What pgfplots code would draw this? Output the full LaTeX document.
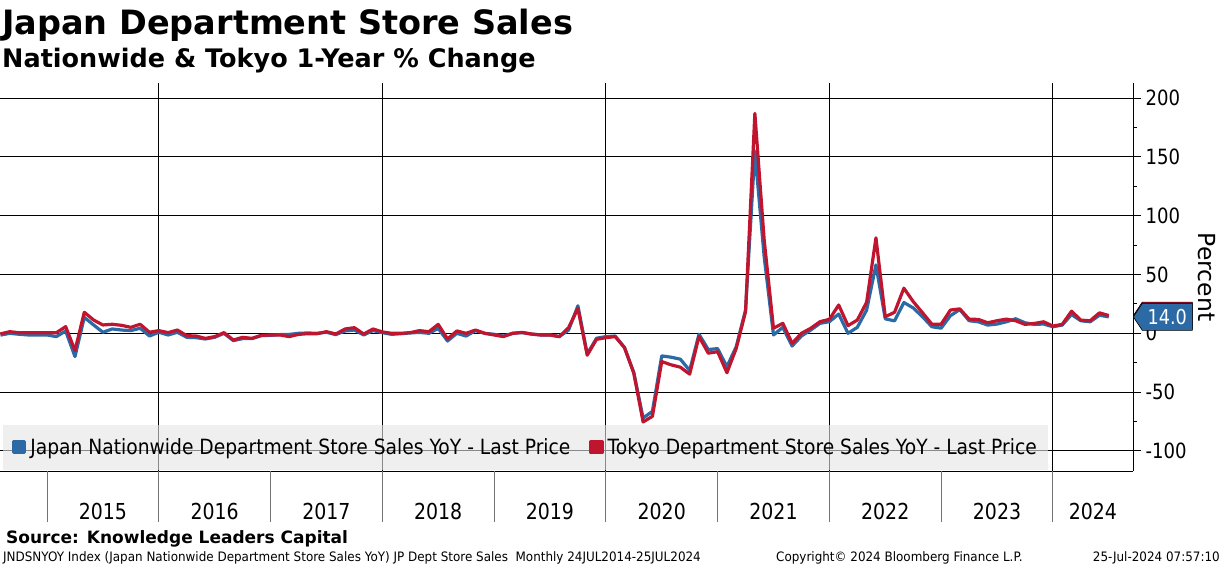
\documentclass[border=0pt]{standalone}
\usepackage{pgfplots}
\pgfplotsset{compat=1.18}
\usepackage{pgfplotstable}
\usepackage{fontspec}
\setmainfont{DejaVu Sans}
\newfontfamily\rg[FakeStretch=0.86]{DejaVu Sans}
\newfontfamily\rgl[FakeStretch=0.89]{DejaVu Sans}
\newfontfamily\rgs[FakeStretch=0.92]{DejaVu Sans}
\newfontfamily\bd{DejaVu Sans}
\usetikzlibrary{shapes.symbols}
\definecolor{blueC}{RGB}{44,106,166}
\definecolor{redC}{RGB}{192,21,47}

\pgfplotstableread{
m N T
-5 -1.5 -0.5
-4 0.0 1.4
-3 -0.8 0.5
-2 -1.4 0.5
-1 -1.4 0.5
0 -1.4 0.5
1 -2.8 0.5
2 2.0 5.7
3 -19.8 -14.7
4 13.6 17.9
5 7.1 11.3
6 0.9 7.1
7 3.7 7.7
8 2.8 6.8
9 2.3 5.1
10 4.3 7.7
11 -2.3 0.9
12 0.9 2.3
13 -1.4 0.6
14 0.9 2.8
15 -3.4 -2.0
16 -3.7 -2.3
17 -4.8 -4.3
18 -3.4 -2.8
19 0.0 0.6
20 -6.2 -5.7
21 -4.5 -3.4
22 -4.5 -4.3
23 -2.0 -1.7
24 -1.7 -1.4
25 -1.1 -1.4
26 -0.9 -2.8
27 0.0 -0.9
28 0.3 -0.3
29 0.0 -0.3
30 0.9 1.4
31 -1.1 -0.6
32 2.0 3.7
33 2.8 4.8
34 -1.4 -0.6
35 2.3 3.7
36 0.6 1.2
37 -0.9 0.0
38 -0.3 0.0
39 0.3 0.6
40 0.8 2.3
41 0.0 1.4
42 4.2 7.6
43 -6.5 -4.8
44 0.0 2.0
45 -2.3 0.0
46 2.3 2.8
47 0.0 0.0
48 -0.8 -1.4
49 -2.3 -2.8
50 0.0 0.0
51 0.6 0.8
52 -0.6 -0.6
53 -1.4 -1.4
54 -1.4 -1.4
55 -2.8 -2.8
56 2.8 4.8
57 23.4 21.2
58 -17.5 -18.6
59 -4.2 -5.1
60 -2.8 -3.7
61 -2.3 -2.8
62 -12.1 -12.1
63 -33.3 -33.9
64 -72.0 -75.4
65 -66.4 -70.6
66 -19.2 -24.0
67 -20.3 -26.8
68 -22.0 -28.8
69 -31.6 -34.7
70 -0.8 -2.8
71 -13.8 -16.9
72 -13.0 -15.6
73 -28.4 -33.5
74 -11.3 -12.8
75 19.8 18.4
76 155.0 187.0
77 65.0 79.4
78 -1.4 4.3
79 5.1 8.5
80 -10.8 -8.5
81 -2.3 0.0
82 2.8 4.3
83 8.5 9.9
84 9.9 11.9
85 16.4 24.1
86 0.0 6.5
87 5.1 11.3
88 19.8 26.4
89 58.2 81.2
90 12.3 14.1
91 10.6 17.9
92 26.2 38.4
93 21.6 27.0
94 14.1 17.5
95 5.6 7.8
96 4.4 7.8
97 15.0 19.8
98 20.2 20.8
99 10.7 12.1
100 9.8 11.8
101 7.0 9.0
102 7.9 10.7
103 9.8 12.1
104 12.4 10.7
105 9.0 7.6
106 7.6 8.4
107 7.9 9.8
108 5.6 6.2
109 7.0 7.6
110 16.0 18.8
111 10.7 11.2
112 9.8 10.7
113 15.4 17.4
114 14.0 15.1
}\data

\begin{document}
\begin{tikzpicture}
\path[use as bounding box] (0pt,0pt) rectangle (1224pt,566pt);
\begin{axis}[
  at={(0pt,95pt)}, anchor=south west,
  width=1133pt, height=388pt, scale only axis,
  xmin=-5.05, xmax=116.6, ymin=-117.1, ymax=212.9,
  clip=false,
  axis x line*=bottom, axis y line*=right,
  axis line style={black, line width=1pt},
  tick align=outside,
  major tick length=8pt, minor tick length=4pt,
  tick style={black, line width=1pt},
  ytick={-100,-50,0,50,100,150,200},
  yticklabels={-100,-50,0,50,100,150,200},
  minor ytick={-75,-25,25,75,125,175},
  yticklabel style={anchor=west, font=\rg\fontsize{21}{25}\selectfont, xshift=1pt},
  xtick={6,18,30,42,54,66,78,90,102,112.3},
  xticklabels={2015,2016,2017,2018,2019,2020,2021,2022,2023,2024},
  xtick style={draw=none},
  xticklabel style={font=\rg\fontsize{22}{26}\selectfont, yshift=-20.5pt},
  minor xtick={12,36,60,84,108},
  xminorgrids=true, ymajorgrids=true, xmajorgrids=false,
  major grid style={black, line width=1pt},
  minor grid style={black, line width=1pt},
  extra x ticks={0,12,24,36,48,60,72,84,96,108},
  extra x tick labels={},
  extra x tick style={grid=none, major tick length=51pt, xtick style={draw=black!55, line width=1pt}},
  every axis y label/.style={at={(axis description cs:1.0654,0.5)}, rotate=-90, anchor=center, font=\bd\fontsize{23.5}{28}\selectfont\mdseries},
  ylabel={Percent},
  legend style={at={(axis description cs:0.0026,0.002)}, anchor=south west,
    legend columns=2, draw=none, fill=black!10, fill opacity=0.6, text opacity=1,
    font=\rgl\fontsize{21}{25}\selectfont, inner xsep=9pt, inner ysep=12pt,
    /tikz/every even column/.append style={column sep=17pt}},
  legend cell align=left,
  legend image code/.code={\fill[#1, fill opacity=1] (0pt,-5.5pt) rectangle (11pt,5.5pt);},
]
\addplot[blueC, line width=3.2pt, line join=round] table[x=m, y=N] {\data};
\addlegendentry{\hspace{2pt}Japan Nationwide Department Store Sales YoY - Last Price}
\addplot[redC, line width=3.2pt, line join=round] table[x=m, y=T] {\data};
\addlegendentry{\hspace{2pt}Tokyo Department Store Sales YoY - Last Price\hspace{8pt}}
\node[signal, signal to=west, fill=redC, draw=black, line width=0.6pt, minimum height=27pt, minimum width=59pt, inner sep=1pt, signal pointer angle=113, anchor=west] at (axis cs:116.6,15.1) {};
\node[signal, signal to=west, fill=blueC, draw=black, line width=0.6pt, minimum height=27pt, minimum width=59pt, inner sep=1pt, signal pointer angle=113, anchor=west, text=white, font=\rg\fontsize{20.5}{24}\selectfont] at (axis cs:116.6,14.0) {14.0};
\end{axis}
\node[anchor=base west, inner sep=0pt, font=\bd\bfseries\fontsize{33.5}{38}\selectfont] at (2pt,531pt) {Japan Department Store Sales};
\node[anchor=base west, inner sep=0pt, font=\bd\bfseries\fontsize{25.5}{30}\selectfont] at (2pt,498pt) {Nationwide \& Tokyo 1-Year \% Change};
\node[anchor=base west, inner sep=0pt, font=\bd\bfseries\fontsize{17}{20}\selectfont] at (6pt,23pt) {Source: Knowledge Leaders Capital};
\node[anchor=base west, inner sep=0pt, font=\rgs\fontsize{13}{15}\selectfont] at (3pt,4.5pt) {JNDSNYOY Index (Japan Nationwide Department Store Sales YoY) JP Dept Store Sales\ \ Monthly 24JUL2014-25JUL2024};
\node[anchor=base west, inner sep=0pt, font=\rgs\fontsize{13}{15}\selectfont] at (776pt,4.5pt) {Copyright© 2024 Bloomberg Finance L.P.};
\node[anchor=base east, inner sep=0pt, font=\rgs\fontsize{13}{15}\selectfont] at (1220pt,4.5pt) {25-Jul-2024 07:57:10};
\end{tikzpicture}
\end{document}
